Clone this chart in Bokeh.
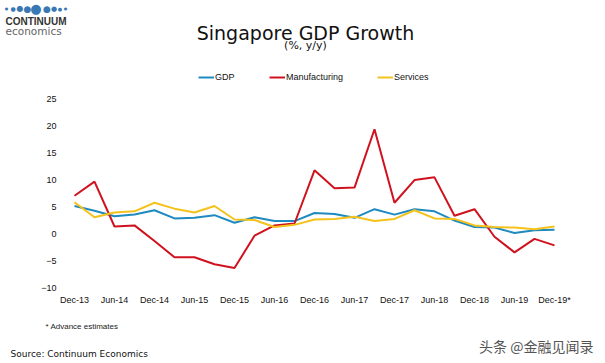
from bokeh.plotting import figure
from bokeh.layouts import column
from bokeh.models import (Range1d, FixedTicker, Label, Legend, LegendItem, ColumnDataSource)
from bokeh.embed import file_html
from bokeh.resources import INLINE

# ---------------- data ----------------
quarters = ["Dec-13", "Mar-14", "Jun-14", "Sep-14", "Dec-14", "Mar-15", "Jun-15", "Sep-15",
            "Dec-15", "Mar-16", "Jun-16", "Sep-16", "Dec-16", "Mar-17", "Jun-17", "Sep-17",
            "Dec-17", "Mar-18", "Jun-18", "Sep-18", "Dec-18", "Mar-19", "Jun-19", "Sep-19",
            "Dec-19*"]
gdp = [5.1, 4.2, 3.2, 3.5, 4.3, 2.8, 2.9, 3.4, 2.0, 3.0, 2.3, 2.3, 3.8,
       3.6, 2.9, 4.5, 3.5, 4.5, 4.1, 2.4, 1.2, 1.1, 0.1, 0.6, 0.7]
manufacturing = [7.0, 9.6, 1.3, 1.5, -1.4, -4.4, -4.4, -5.7, -6.4, -0.4, 1.5, 1.85, 11.7,
                 8.4, 8.5, 19.3, 5.7, 9.9, 10.4, 3.3, 4.5, -0.6, -3.5, -1.0, -2.2]
services = [5.8, 3.0, 3.9, 4.1, 5.7, 4.6, 3.9, 5.1, 2.6, 2.5, 1.2, 1.6, 2.6,
            2.7, 3.1, 2.3, 2.7, 4.3, 2.8, 2.7, 1.5, 1.2, 1.1, 0.8, 1.3]
y_ticks = [-10, -5, 0, 5, 10, 15, 20, 25]
series_names = ["GDP", "Manufacturing", "Services"]
series_colors = ["#1f8ac0", "#d0121f", "#f4c21b"]

idx = list(range(len(quarters)))
src = ColumnDataSource(dict(x=idx, gdp=gdp, man=manufacturing, ser=services))

W = 605
HEAD_H, CHART_H = 60, 250
FOOT_H = 363 - HEAD_H - CHART_H


def blank_fig(h):
    f = figure(width=W, height=h, output_backend="svg", toolbar_location=None,
               x_axis_type=None, y_axis_type=None, x_range=Range1d(0, 1), y_range=Range1d(0, 1),
               min_border=0, min_border_left=0, min_border_right=0, min_border_top=0,
               min_border_bottom=0, outline_line_color=None, background_fill_color="white",
               border_fill_color="white", frame_align=False)
    f.xgrid.visible = False
    f.ygrid.visible = False
    return f


def add_label(fig, left, bottom, text, ix, iy, size, font, color, align="left",
              baseline="middle", style="normal"):
    # ix, iy are page pixels; convert to frame-relative screen units (y up)
    fig.add_layout(Label(x=ix - left, y=bottom - iy, x_units="screen", y_units="screen",
                         text=text, text_font=font, text_font_size=size, text_color=color,
                         text_align=align, text_baseline=baseline, text_font_style=style))


# ---------------- header ----------------
head = blank_fig(HEAD_H)


def hl(*a, **k):
    add_label(head, 0, HEAD_H, *a, **k)


for dx, sz in [(6, "4px"), (12.5, "6px"), (19.5, "8px"), (27, "9px"), (35.5, "13px"),
               (46.5, "9px"), (53.5, "7px"), (59.5, "5px"), (65, "4px")]:
    hl("\u25CF", dx, 8, sz, "DejaVu Sans", "#3a78b5", align="center")
hl("CONTINUUM", 5, 20.5, "10px", "Liberation Sans", "#333333", style="bold")
hl("economics", 5, 30, "10.5px", "DejaVu Sans", "#666666")
hl("Singapore GDP Growth", 305, 32, "19px", "DejaVu Sans", "#111111", align="center")
hl("(%, y/y)", 305, 45, "11px", "DejaVu Sans", "#111111", align="center")

# ---------------- chart ----------------
FL, FR, FB = 64, 31, 20          # frame borders inside chart figure
frame_top_page = HEAD_H           # frame starts right at the top of chart figure
frame_bot_page = HEAD_H + CHART_H - FB   # = 290
px_per_unit = 5.4
zero_page = 233
y_top = (zero_page - frame_top_page) / px_per_unit
y_bot = (zero_page - frame_bot_page) / px_per_unit

p = figure(width=W, height=CHART_H, output_backend="svg", toolbar_location=None,
           x_range=Range1d(-0.5, 25), y_range=Range1d(y_bot, y_top),
           min_border_left=FL, min_border_right=FR, min_border_top=0,
           min_border_bottom=FB, background_fill_color="white",
           border_fill_color="white", outline_line_color=None, frame_align=False)
p.xgrid.visible = False
p.ygrid.visible = False

for ax in (p.xaxis[0], p.yaxis[0]):
    ax.axis_line_color = None
    ax.major_tick_line_color = None
    ax.minor_tick_line_color = None
    ax.major_tick_in = 0
    ax.major_tick_out = 0
    ax.major_label_text_font = "Liberation Sans"
    ax.major_label_text_font_size = "9px"
    ax.major_label_text_color = "#111111"

p.yaxis[0].ticker = FixedTicker(ticks=y_ticks)
p.yaxis[0].major_label_standoff = 8
p.xaxis[0].ticker = FixedTicker(ticks=idx[::2])
p.xaxis[0].major_label_overrides = {i: quarters[i] for i in idx[::2]}
p.xaxis[0].major_label_standoff = 4

r_gdp = p.line("x", "gdp", source=src, line_color=series_colors[0], line_width=2)
r_man = p.line("x", "man", source=src, line_color=series_colors[1], line_width=2)
r_ser = p.line("x", "ser", source=src, line_color=series_colors[2], line_width=2)

legend_center_page = 77
legend = Legend(items=[LegendItem(label=series_names[0], renderers=[r_gdp]),
                       LegendItem(label=series_names[1], renderers=[r_man]),
                       LegendItem(label=series_names[2], renderers=[r_ser])],
                location=(198 - FL, frame_bot_page - legend_center_page - 10),
                orientation="horizontal", spacing=34,
                padding=0, margin=0, glyph_width=16, glyph_height=20,
                label_height=20, label_standoff=1,
                label_text_font="Liberation Sans", label_text_font_size="9px",
                label_text_color="#111111",
                border_line_color=None, background_fill_alpha=0)
p.add_layout(legend)

# ---------------- footer ----------------
foot = blank_fig(FOOT_H)


def fl(*a, **k):
    add_label(foot, 0, 363, *a, **k)


fl("* Advance estimates", 45, 326, "8px", "Liberation Sans", "#222222")
fl("Source: Continuum Economics", 10, 353, "9px", "DejaVu Sans", "#111111")
fl("头条 @金融见闻录", 593, 345, "14px", "Noto Sans CJK SC", "#555555", align="right")

layout = column(head, p, foot, spacing=0)
open("out.html", "w").write(file_html(layout, INLINE))
